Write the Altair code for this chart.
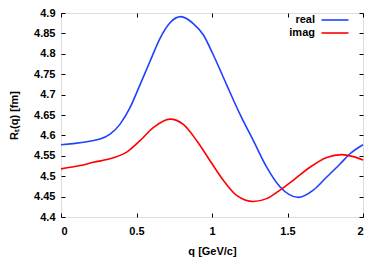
import altair as alt
import pandas as pd

q_real = [0.0, 0.258, 0.325, 0.39, 0.457, 0.523, 0.589, 0.656, 0.722, 0.793, 0.876, 0.943,
          1.009, 1.097, 1.185, 1.274, 1.362, 1.45, 1.572, 1.671, 1.76, 1.848, 1.914, 2.0]
v_real = [4.577, 4.591, 4.603, 4.627, 4.668, 4.724, 4.781, 4.838, 4.876, 4.891, 4.874, 4.846,
          4.797, 4.724, 4.652, 4.587, 4.522, 4.474, 4.448, 4.466, 4.498, 4.530, 4.555, 4.577]

q_imag = [0.0, 0.126, 0.214, 0.346, 0.435, 0.523, 0.611, 0.722, 0.81, 0.899, 0.987, 1.075,
          1.163, 1.274, 1.362, 1.45, 1.538, 1.649, 1.76, 1.859, 1.936, 2.0]
v_imag = [4.518, 4.526, 4.534, 4.545, 4.559, 4.587, 4.619, 4.640, 4.627, 4.587, 4.538, 4.490,
          4.453, 4.438, 4.445, 4.466, 4.490, 4.522, 4.546, 4.553, 4.548, 4.540]

series_names = ["real", "imag"]
series_colors = ["#2040ff", "#ff0000"]
x_ticks = [0, 0.5, 1, 1.5, 2]
y_ticks = [4.4, 4.45, 4.5, 4.55, 4.6, 4.65, 4.7, 4.75, 4.8, 4.85, 4.9]

df = pd.concat([
    pd.DataFrame({"q": q_real, "value": v_real, "series": "real"}),
    pd.DataFrame({"q": q_imag, "value": v_imag, "series": "imag"}),
])

FONT = "Liberation Sans"
xscale = alt.Scale(domain=[0, 2], nice=False, zero=False)
yscale = alt.Scale(domain=[4.4, 4.9], nice=False, zero=False)

lines = alt.Chart(df).mark_line(strokeWidth=1.6, interpolate="monotone").encode(
    x=alt.X("q:Q", scale=xscale,
            axis=alt.Axis(orient="bottom", values=x_ticks, format="~g", domain=False,
                          ticks=False, grid=False,
                          labelPadding=8, labelFont=FONT, labelFontWeight="bold", labelFontSize=11,
                          labelColor="black", title="q [GeV/c]", titleFont=FONT,
                          titleFontWeight="bold", titleFontSize=11, titlePadding=9,
                          titleColor="black")),
    y=alt.Y("value:Q", scale=yscale,
            axis=alt.Axis(orient="left", values=y_ticks, format="~g", domain=False,
                          ticks=False, grid=False,
                          labelPadding=6, labelFont=FONT, labelFontWeight="bold", labelFontSize=11,
                          labelColor="black", title="Rₜ(q) [fm]", titleFont=FONT,
                          titleFontWeight="bold", titleFontSize=11, titlePadding=14,
                          titleColor="black")),
    color=alt.Color("series:N", scale=alt.Scale(domain=series_names, range=series_colors),
                    legend=alt.Legend(orient="none", legendX=267, legendY=0, title=None,
                                      symbolType="M-2.25,0H2.25", symbolSize=144,
                                      symbolStrokeWidth=1.6, symbolFillColor="transparent",
                                      labelAlign="right", labelOffset={"expr": "-27"},
                                      rowPadding=1,
                                      labelFont=FONT,
                                      labelFontWeight="bold", labelFontSize=11,
                                      labelColor="black")),
    detail="series:N",
)

def tick_layer(xorient, yorient):
    return alt.Chart(df).mark_line(opacity=0).encode(
        x=alt.X("q:Q", scale=xscale,
                axis=alt.Axis(orient=xorient, values=x_ticks, domain=False, labels=False,
                              grid=False, title=None, tickSize=4, offset=-4, tickColor="black",
                              tickWidth=1)),
        y=alt.Y("value:Q", scale=yscale,
                axis=alt.Axis(orient=yorient, values=y_ticks, domain=False, labels=False,
                              grid=False, title=None, tickSize=4, offset=-4, tickColor="black",
                              tickWidth=1)),
        detail="series:N",
    )

chart = alt.layer(
    lines, tick_layer("bottom", "left"), tick_layer("top", "right")
).resolve_axis(x="independent", y="independent").properties(
    width=302, height=204,
    autosize=alt.AutoSizeParams(type="none"),
    padding={"left": 53, "top": 5, "right": 10, "bottom": 45},
).configure_view(stroke="black", strokeWidth=1.6).configure(background="white")

chart.save("out.html", embed_options={"renderer": "svg", "actions": False})
